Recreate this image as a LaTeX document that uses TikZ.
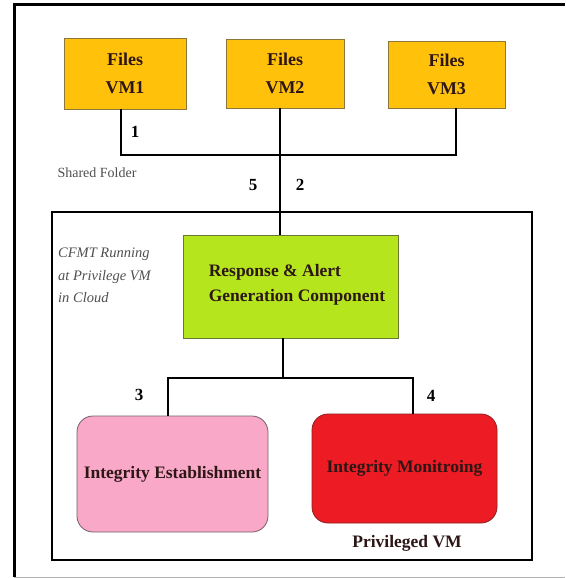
\documentclass[tikz,border=0pt]{standalone}
\usepackage{fontspec}
\setmainfont{Liberation Serif}
\definecolor{filefill}{RGB}{255,193,10}
\definecolor{filebd}{RGB}{140,118,60}
\definecolor{ragfill}{RGB}{181,230,29}
\definecolor{ragbd}{RGB}{105,120,50}
\definecolor{iefill}{RGB}{250,168,200}
\definecolor{iebd}{RGB}{115,95,105}
\definecolor{imfill}{RGB}{237,28,36}
\definecolor{imbd}{RGB}{140,30,30}
\definecolor{boxtext}{RGB}{45,22,22}
\definecolor{notetext}{RGB}{80,80,80}
\begin{document}
\begin{tikzpicture}[x=1pt,y=-1pt,
  filebox/.style={draw=filebd, fill=filefill, line width=0.8pt, inner sep=0pt,
    align=center, text=boxtext, font=\fontsize{18}{28}\selectfont\bfseries},
  ragbox/.style={draw=ragbd, fill=ragfill, line width=0.8pt, inner sep=0pt},
  ragtext/.style={align=left, inner sep=0pt, text=boxtext,
    font=\fontsize{17.5}{25}\selectfont\bfseries},
  roundbox/.style={line width=0.8pt, rounded corners=16pt, inner sep=0pt,
    text=boxtext, font=\fontsize{17.5}{20}\selectfont\bfseries},
  wire/.style={line width=2pt, draw=black},
  num/.style={inner sep=0pt, font=\fontsize{17}{17}\selectfont\bfseries},
  note/.style={inner sep=0pt, text=notetext}]
\useasboundingbox (0,0) rectangle (565,578);
\fill[white] (0,0) rectangle (565,578);

% outer frame
\draw[line width=3pt] (565,5) -- (14,5) -- (14,577);
\draw[line width=0.8pt, draw=gray!60] (14,577) -- (565,577);

% privileged VM frame
\node[draw, line width=2.5pt, minimum width=480pt, minimum height=348pt, inner sep=0pt]
  (priv) at (292,386) {};

% file boxes on the guest VMs
\node[filebox, minimum width=122pt, minimum height=71pt] (vm1) at (125,73.5) {Files\\VM1};
\node[filebox, minimum width=118pt, minimum height=69pt] (vm2) at (285,73.5) {Files\\VM2};
\node[filebox, minimum width=117pt, minimum height=67pt] (vm3) at (446.5,74.5) {Files\\VM3};

% response and alert component
\node[ragbox, minimum width=215pt, minimum height=103pt] (rag) at (290.5,286.5) {};
\node[ragtext, anchor=west] (ragt) at ([xshift=26pt,yshift=2pt]rag.west)
  {Response \& Alert\\Generation Component};

% integrity components
\node[roundbox, draw=iebd, fill=iefill, minimum width=191pt, minimum height=116pt]
  (ie) at (172.5,474) {Integrity Establishment};
\node[roundbox, draw=imbd, fill=imfill, minimum width=185pt, minimum height=109pt]
  (im) at (404.5,468.5) {Integrity Monitroing};

% shared folder bus
\coordinate (b1) at (121,155);
\coordinate (b2) at (280,155);
\coordinate (b3) at (456,155);
\draw[wire] (vm1.south -| b1) -- (b1) -- (b3) -- (vm3.south -| b3);
\draw[wire] (vm2.south -| b2) -- (rag.north -| b2);

% branch to the integrity components
\coordinate (t) at (283,378);
\coordinate (tl) at (168,378);
\coordinate (tr) at (413,378);
\draw[wire] (rag.south -| t) -- (t);
\draw[wire] (ie.north -| tl) -- (tl) -- (tr) -- (im.north -| tr);

% step numbers
\node[num] (n1) at (135,132) {1};
\node[num] (n5) at (253,185) {5};
\node[num] (n2) at (300,185) {2};
\node[num] (n3) at (139,395) {3};
\node[num] (n4) at (431,396) {4};

% annotations
\node[note, font=\fontsize{14}{14}\selectfont] (sf) at (97,173) {Shared Folder};
\node[note, anchor=north west, align=left, font=\fontsize{14.5}{22.5}\selectfont\itshape]
  (cfmt) at (58,248) {CFMT Running\\at Privilege VM\\in Cloud};
\node[inner sep=0pt, text=boxtext, font=\fontsize{17.5}{17.5}\selectfont\bfseries]
  (pvm) at (407,543) {Privileged VM};
\end{tikzpicture}
\end{document}
